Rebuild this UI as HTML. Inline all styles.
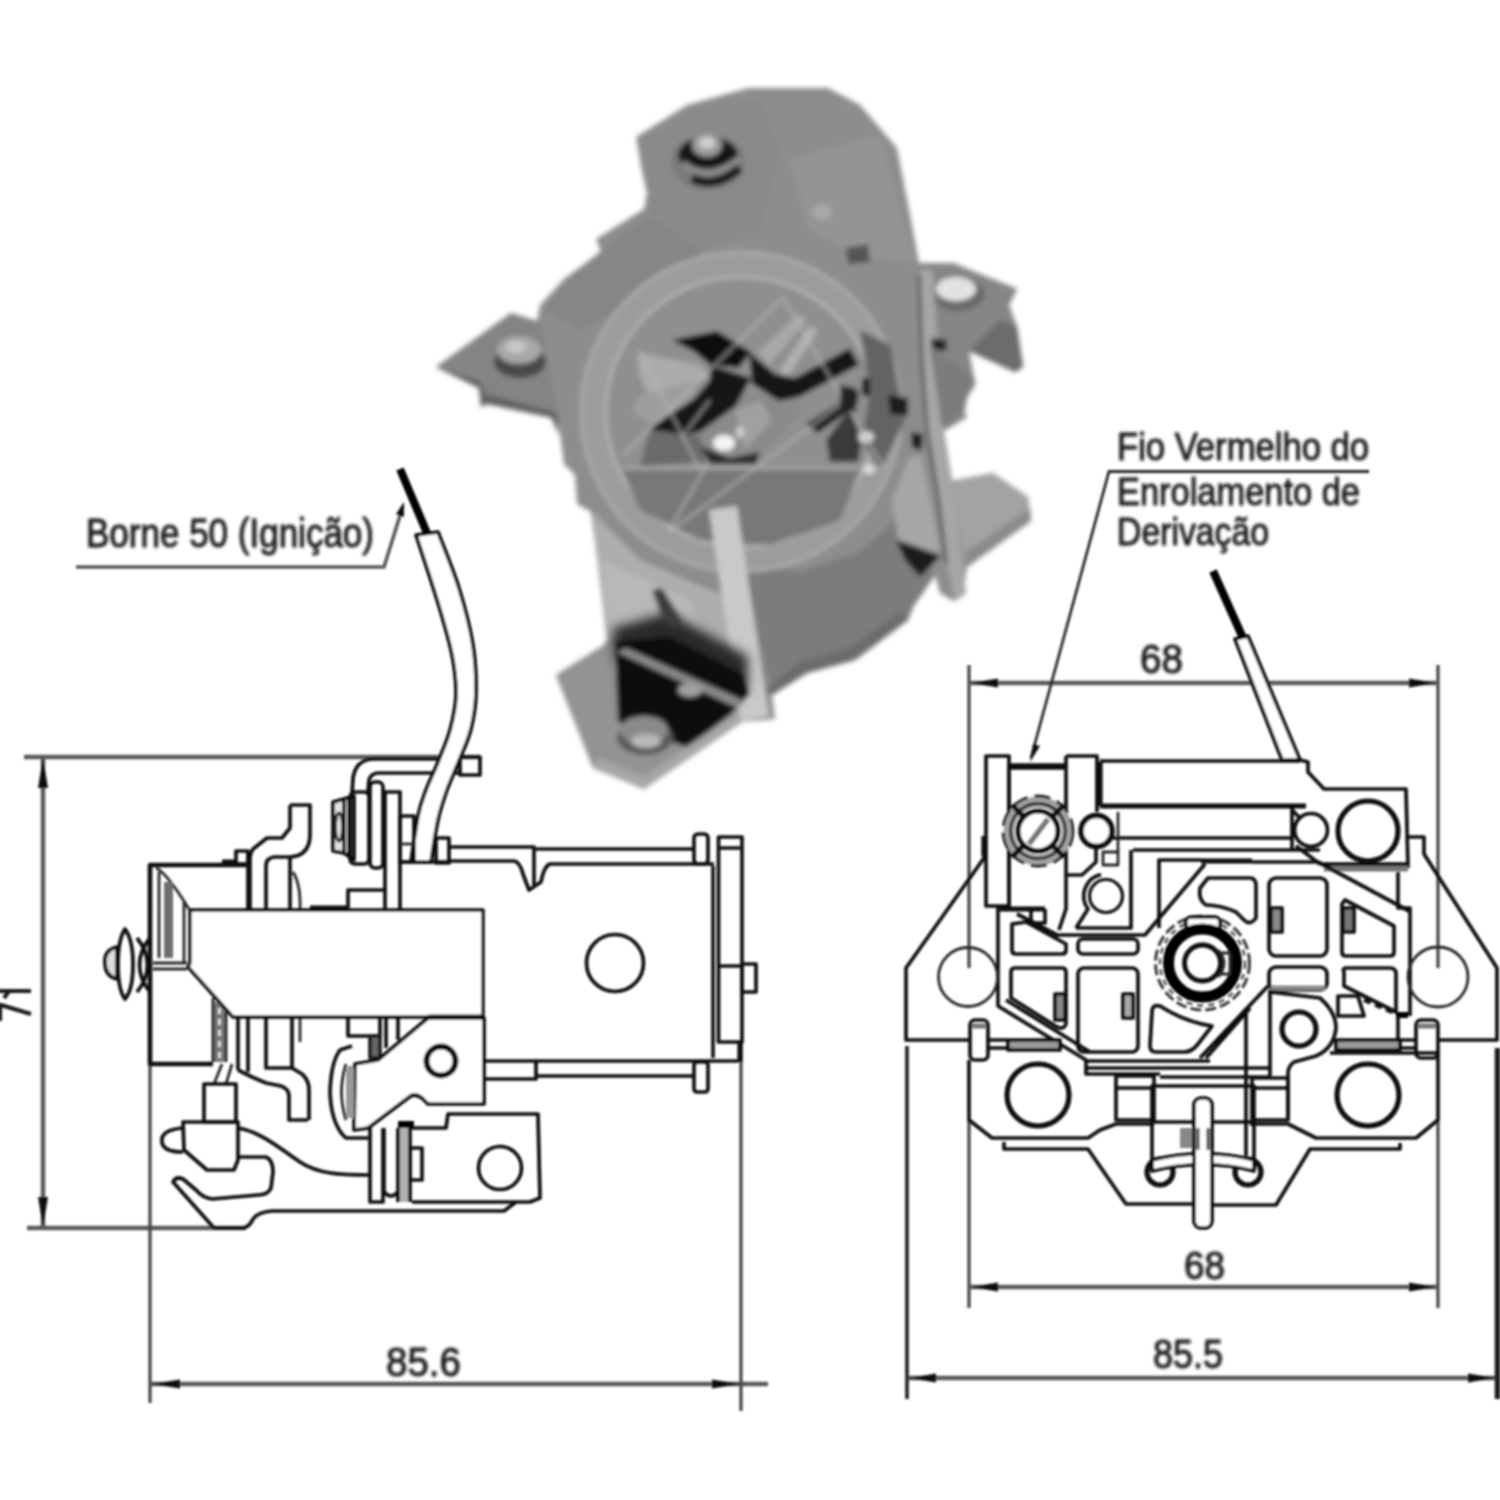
<!DOCTYPE html>
<html><head><meta charset="utf-8">
<style>
html,body{margin:0;padding:0;background:#fff;}
svg{display:block}
text{font-family:"Liberation Sans",sans-serif;fill:#161616;stroke:#161616;stroke-width:0.9}
.l{stroke:#0a0a0a;stroke-width:3.7;fill:none;stroke-linejoin:round;stroke-linecap:butt}
.w{fill:#fff}
.k{stroke-width:5.2}
.t{stroke:#262626;stroke-width:2.8}
.d{stroke:#5a5a5a;stroke-width:4.5;fill:none}
.e{stroke:#484848;stroke-width:3.3;fill:none}
.a{fill:#111;stroke:none}
.g{fill:#8a8a8a}
</style></head><body>
<svg width="1500" height="1500" viewBox="0 0 1500 1500">
<defs>
<filter id="b1" x="-5%" y="-5%" width="110%" height="110%"><feGaussianBlur stdDeviation="1.15"/></filter>
<filter id="b2" x="-5%" y="-5%" width="110%" height="110%"><feGaussianBlur stdDeviation="2.6"/></filter>
<filter id="b3" x="-10%" y="-10%" width="120%" height="120%"><feGaussianBlur stdDeviation="5"/></filter>
<filter id="bt" x="-5%" y="-20%" width="110%" height="140%"><feGaussianBlur stdDeviation="0.9"/></filter>
</defs>
<rect width="1500" height="1500" fill="#fff"/>
<g id="photo" filter="url(#b2)">
<!-- silhouette -->
<polygon fill="#8d8d8d" points="748,88 828,88 860,105 897,148 911,220 919,263 953,263 1017,289 1009,305 1017,327 1023,367 1015,372 969,351 975,385 961,407 967,417 940,433 945,476 951,481 993,473 1028,497 1031,521 967,567 964,588 953,601 940,593 935,575 913,607 908,620 855,660 807,673 772,695 775,719 740,722 644,789 593,768 556,675 604,645 607,640 596,549 591,512 577,504 575,475 564,464 559,427 551,417 487,404 481,407 479,388 436,367 511,313 537,321 540,305 564,279 601,252 596,239 644,209 647,193 641,167 636,137 687,105"/>
<!-- top cap lighter right band -->
<polygon fill="#949494" points="790,160 880,135 905,230 915,262 860,255 810,230"/>
<polygon fill="#8a8a8a" points="640,140 700,105 760,100 780,150 760,230 700,250 650,215"/>
<!-- cap lower left slope -->
<polygon fill="#868686" points="600,252 650,215 700,250 690,275 640,300 580,330 545,310 565,280"/>
<!-- top screw -->
<ellipse cx="708" cy="162" rx="37" ry="28" fill="#7c7c7c"/>
<ellipse cx="708" cy="155" rx="30" ry="18" fill="#141414"/>
<path d="M683,163 Q708,184 740,158" stroke="#8c8c8c" stroke-width="6" fill="none"/>
<path d="M692,178 Q714,190 740,168" stroke="#141414" stroke-width="9" fill="none"/>
<ellipse cx="707" cy="145" rx="15" ry="12" fill="#9a9a9a"/>
<ellipse cx="707" cy="143" rx="8" ry="6" fill="#d0d0d0"/>
<!-- left lug -->
<polygon fill="#848484" points="436,367 511,313 540,322 560,420 487,404 479,388"/>
<polygon fill="#626262" points="436,367 479,388 481,407 487,404 551,417 559,436 556,412 486,394 480,381"/>
<ellipse cx="520" cy="362" rx="26" ry="16" fill="#4a4a4a"/>
<ellipse cx="519" cy="350" rx="22" ry="14" fill="#a8a8a8"/>
<ellipse cx="516" cy="347" rx="10" ry="6" fill="#c8c8c8"/>
<!-- lower-left light front plate -->
<polygon fill="#adadad" points="593,512 640,560 710,590 745,600 770,716 740,722 700,690 640,630 607,640 596,549"/>
<polygon fill="#b8b8b8" points="600,560 690,600 720,690 660,640 610,635"/>
<!-- coil -->
<polygon fill="#7b7b7b" points="742,560 800,572 860,552 900,515 935,575 913,607 908,620 855,660 807,673 772,695 760,640"/>
<polygon fill="#6c6c6c" points="765,690 772,695 807,673 855,660 908,620 900,612 850,648 800,662"/>
<!-- ring (watermark) -->
<circle cx="741" cy="412" r="148" fill="none" stroke="#9c9c9c" stroke-width="24"/>
<circle cx="741" cy="412" r="160" fill="none" stroke="#bdbdbd" stroke-width="2.5" opacity=".7"/>
<circle cx="741" cy="412" r="135" fill="none" stroke="#c6c6c6" stroke-width="2.5" opacity=".8"/>
<!-- inside ring base -->
<circle cx="741" cy="412" r="133" fill="#8f8f8f"/>
<!-- interior lighter bits -->
<polygon fill="#ababab" points="637,352 700,365 708,378 648,395 639,374"/>
<polygon fill="#9d9d9d" points="640,395 700,380 690,400 650,425 632,410"/>
<polygon fill="#a8a8a8" points="758,352 799,314 807,320 769,365"/>
<polygon fill="#b0b0b0" points="779,372 810,325 818,331 788,376"/>
<polygon fill="#8a8a8a" points="732,395 788,395 803,410 760,455 705,455 700,432"/>
<polygon fill="#a0a0a0" points="735,410 760,400 772,420 745,450"/>
<polygon fill="#787878" points="622,470 860,470 840,520 770,545 700,540 640,510"/>
<!-- darks -->
<polygon fill="#0e0e0e" points="672,340 717,331 751,352 739,368 710,365 695,352"/>
<polygon fill="#121212" points="710,365 751,378 736,406 700,432 669,439 650,428 695,398 710,380"/>
<polygon fill="#121212" points="749,352 775,374 795,378 850,348 859,365 799,397 779,401 752,384"/>
<polygon fill="#161616" points="806,424 859,390 857,405 818,433"/>
<polygon fill="#6a6a6a" points="650,430 700,436 706,462 640,466"/>
<polygon fill="#2a2a2a" points="700,446 730,458 760,452 756,464 710,464"/>
<polygon fill="#3a3a3a" points="826,440 850,408 862,440 858,462 830,462"/>
<polygon fill="#636363" points="860,330 890,345 905,420 880,470 862,440 870,390"/>
<rect x="862" y="378" width="8" height="18" fill="#1a1a1a"/>
<path d="M682,437 L710,400" stroke="#8a8a8a" stroke-width="2.5"/>
<!-- highlights -->
<ellipse cx="724" cy="443" rx="11" ry="8" fill="#f4f4f4"/>
<ellipse cx="740" cy="432" rx="4" ry="6" fill="#cfcfcf"/>
<ellipse cx="866" cy="437" rx="8" ry="6" fill="#d6d6d6"/>
<ellipse cx="869" cy="469" rx="6" ry="5" fill="#e0e0e0"/>
<!-- watermark lines -->
<g stroke="#bcbcbc" stroke-width="2.2" fill="none" opacity=".75">
<path d="M622,468 H884 M622,456 L783,298 M783,298 L884,468 M671,531 L856,393 M708,463 L668,532 M640,352 L700,470"/>
</g>
<!-- light plate bottom centre -->
<polygon fill="#c9c9c9" points="709,510 737,506 768,715 741,721"/>
<!-- black shadow under plate -->
<polygon fill="#2a2a2a" filter="url(#b3)" points="612,628 668,612 748,656 748,690 700,690 616,660"/>
<polygon fill="#101010" points="615,642 668,636 744,674 750,694 733,713 690,746 660,752 618,722"/>
<polygon fill="#8a8a8a" points="617,652 626,648 742,700 738,708"/>
<ellipse cx="690" cy="690" rx="12" ry="7" fill="#a0a0a0"/>
<!-- slot -->
<polygon fill="#3c3c3c" points="652,590 662,588 682,620 672,628 660,612"/>
<!-- bottom lug -->
<polygon fill="#939393" points="556,675 604,645 618,722 688,748 733,713 742,722 644,789 593,768"/>
<polygon fill="#a6a6a6" points="593,768 644,789 742,722 738,712 644,776 598,757"/>
<ellipse cx="645" cy="738" rx="28" ry="17" fill="#5a5a5a"/>
<ellipse cx="644" cy="730" rx="24" ry="14" fill="#8a8a8a"/>
<ellipse cx="646" cy="741" rx="15" ry="7" fill="#b9b9b9"/>
<!-- right lug top -->
<polygon fill="#858585" points="919,263 953,263 1017,289 1009,305 1017,327 1023,367 1015,372 969,351 975,385 961,407 967,417 940,433 930,330"/>
<polygon fill="#6c6c6c" points="969,351 1015,372 1023,367 1017,327 1000,320 985,335"/>
<ellipse cx="958" cy="294" rx="27" ry="17" fill="#6a6a6a"/>
<ellipse cx="956" cy="289" rx="20" ry="12" fill="#e2e2e2"/>
<!-- right strap -->
<polygon fill="#a6a6a6" points="920,270 933,270 939,363 944,430 955,497 963,563 966,594 955,601 947,563 939,497 928,430 923,363"/>
<path d="M919,275 L922,363 L927,430 L938,497 L946,563" stroke="#4e4e4e" stroke-width="3" fill="none"/>
<polygon fill="#222" points="931,338 947,340 946,351 932,350"/>
<polygon fill="#1a1a1a" points="911,432 923,434 922,450 912,448"/>
<polygon fill="#1a1a1a" points="888,395 908,398 908,416 890,414"/>
<polygon fill="#222" points="840,385 856,388 856,412 840,410"/>
<polygon fill="#7c7c7c" points="930,345 976,380 968,390 965,410 942,428"/>
<!-- triangle bracket -->
<polygon fill="#a6a6a6" points="909,458 921,456 941,553 898,540 892,500"/>
<polygon fill="#1e1e1e" points="896,540 941,556 920,577 905,560"/>
<!-- right bottom lug -->
<polygon fill="#a3a3a3" points="951,481 993,473 1028,497 1031,521 967,567 958,520"/>
<polygon fill="#8a8a8a" points="967,567 1031,521 1030,508 966,552"/>
<!-- small details -->
<polygon fill="#555" points="846,248 868,244 870,262 848,264"/>
<ellipse cx="822" cy="212" rx="10" ry="8" fill="#a8a8a8"/>
</g>

<g id="left" filter="url(#b1)">
<!-- dimension lines -->
<path class="d" d="M24,757H480 M43,757V1228 M27,1228H246 M151,1384H768"/>
<path class="e" d="M150,1066V1403 M741,1044V1411"/>
<polygon class="a" points="43,758 38,788 48,788"/>
<polygon class="a" points="43,1227 38,1197 48,1197"/>
<polygon class="a" points="152,1384 180,1379.500 180,1388.500"/>
<polygon class="a" points="740,1384 712,1379.500 712,1388.500"/>
<!-- core body, rods, end plate -->
<g class="l">
<path d="M400,862H449"/>
<path d="M449,847H534V885"/>
<path d="M449,861H514Q520,862 523,874L529,890L541,882Q544,866 550,864H714"/>
<path d="M536,849H694"/>
<rect x="694" y="834" width="14" height="30" rx="4"/>
<path d="M713,866V1058" style="stroke-width:3.6"/>
<path d="M484,1061H738"/>
<rect x="718.500" y="837" width="23.500" height="205"/>
<path d="M719,848H740 M717,966H742"/>
<rect x="742" y="964" width="14" height="28"/>
<path class="k" d="M740,1042V1062"/>
<circle cx="615" cy="963" r="28.500"/>
<path d="M484,1079H536V1062 M536,1076H694"/>
<rect x="694" y="1062" width="14" height="30" rx="3"/>
</g>
<!-- bent strip + dim box (drawn before wire) -->
<g class="l">
<path d="M352,794L353,778Q356,760 372,759H460"/>
<path d="M368,792L369,780Q371,773 379,773H460"/>
<rect x="460" y="757" width="20" height="18"/>
</g>
<!-- wire -->
<path class="l w" d="M416,535C419.7,546.3 432.0,583.0 438,603C444.0,623.0 449.0,639.7 452,655C455.0,670.3 456.3,682.5 456,695C455.7,707.5 453.0,718.8 450,730C447.0,741.2 442.0,752.0 438,762C434.0,772.0 429.3,781.0 426,790C422.7,799.0 420.5,804.0 418,816C415.5,828.0 412.2,854.3 411,862L431,862C432.2,855.0 435.3,832.0 438,820C440.7,808.0 443.5,799.8 447,790C450.5,780.2 455.0,771.2 459,761C463.0,750.8 468.2,740.3 471,729C473.8,717.7 475.7,707.0 476,693C476.3,679.0 475.8,662.5 473,645C470.2,627.5 464.8,606.8 459,588C453.2,569.2 441.5,541.3 438,532Z"/>
<path d="M400,469L427,533" stroke="#000" stroke-width="8" fill="none"/>
<rect class="l" x="436" y="838" width="13" height="25"/>
<!-- label -->
<path class="d" style="stroke-width:3.6" d="M76,567H384L403,506"/>
<polygon class="a" points="404,502 396,514 404,517"/>
<!-- body left block -->
<g class="l">
<path class="k" style="stroke-width:4.6" d="M246,865H150V1064H213"/>
<path class="t" d="M156,868Q166,872 189,909 M159,872V958 M184,902V962 M153,963H187 M153,969H187"/>
<rect x="164" y="882" width="9" height="76" fill="#6e6e6e" stroke="none"/>
<rect x="236" y="851" width="12" height="13"/>
<path d="M222,862H236" style="stroke-width:5"/>
<path d="M248,852V910"/>
<!-- Z bracket upper -->
<path d="M290,805V828L282,838H267L253,849Q250,853 250,860V910"/>
<path d="M290,805H310V834Q310,856 290,857H274Q266,858 266,866V910"/>
<path d="M290,858V910"/>
<path class="t" d="M293,872Q301,885 300,910"/>
<!-- nut stack -->
<path d="M333,802L344,799L354,796V860L344,853L333,851Z" fill="#e4e4e4"/>
<path d="M344,799V853 M349,798V857"/>
<ellipse cx="339" cy="827" rx="3.500" ry="14" class="t"/>
<rect x="350" y="792" width="19" height="72" rx="5"/>
<rect x="370" y="782" width="13" height="86" rx="5"/>
<path d="M385,910V792H400V910"/>
<rect x="400" y="816" width="14" height="46"/>
<path class="t" d="M400,844H414"/>
<path d="M348,908V890H384"/>
<path d="M310,908H348" style="stroke-width:5"/>
<!-- left terminal screw -->
<path d="M117,947Q104,950 105,963Q105,976 117,979Z" fill="#ddd"/>
<path d="M125,929Q133,940 133,964Q133,990 125,999Q118,990 118,964Q118,940 125,929Z"/>
<path d="M137,938C151,955 151,975 137,992 M150,938C136,955 136,975 150,992"/>
</g>
<!-- lower parts below big rect -->
<g class="l">
<rect x="213" y="1002" width="13" height="60" fill="#777" stroke="none"/>
<path class="t" d="M213,998V1062 M226,1012V1062" />
<path d="M219.500,1008V1060" stroke="#fff" stroke-width="2" stroke-dasharray="6 5"/>
<path class="t" d="M222,1064L214,1084 M232,1064L226,1084"/>
<path d="M238,1017V1070 M248,1017V1072"/>
<path d="M266,1017V1068H292V1017"/>
<path class="t" d="M300,1017V1042"/>
<path d="M238,1070L252,1077L266,1083L281,1086Q289,1089 289,1096V1120H308"/>
<path d="M292,1068L302,1074Q309,1080 309,1090V1120"/>
<rect x="204" y="1084" width="32" height="38"/>
<path d="M183,1122H238V1160L234,1170H207L184,1150Z"/>
<path d="M183,1128Q160,1130 162,1142Q163,1152 183,1152"/>
<path d="M238,1157H266Q273,1160 273,1172L271,1188Q268,1195 258,1195L212,1199Q203,1198 196,1190L183,1179Q176,1176 173,1182L214,1228"/>
<path d="M238,1128C262,1132 282,1150 300,1162C318,1174 340,1175 370,1175"/>
<path d="M214,1228H244Q250,1226 253,1219Q258,1212 272,1211H504L516,1202"/>
<!-- lens contact -->
<path d="M352,1046L340,1050Q331,1062 330,1092Q331,1120 342,1134L346,1138H368"/>
<path class="t" d="M346,1064Q337,1092 346,1120"/>
<rect x="348" y="1066" width="6" height="50" fill="#8c8c8c" stroke="none"/>
<path d="M348,1018V1036H380V1018"/>
<rect x="370" y="1036" width="10" height="22" fill="#666" stroke="#1e1e1e"/>
<path d="M386,1018V1048 M398,1018V1040"/>
<!-- lower plates -->
<path d="M370,1128V1202H383V1128"/>
<path d="M384,1128V1192Q391,1200 398,1192"/>
<rect x="399" y="1128" width="11" height="74" fill="#b0b0b0" stroke="none"/>
<path d="M398,1128V1202 M410,1128V1202"/>
<rect x="398" y="1121" width="16" height="7" fill="#000" stroke="none"/>
<rect x="410" y="1148" width="12" height="32"/>
<path d="M412,1128H446L448,1114H538L540,1198L530,1202H412"/>
<circle cx="500" cy="1168" r="21.500"/>
</g>
<!-- big rect -->
<path class="l w" style="stroke-width:3.400" d="M190,910H483V1017H233L188,967L190,963Z"/>
<path class="l" d="M428,1017H484" style="stroke-width:5"/>
<!-- upper lug -->
<path class="l w" d="M428,1018H484V1104H428L422,1098Q414,1092 408,1098L368,1128L354,1130L355,1064L378,1060Z"/>
<rect x="346" y="1068" width="8" height="50" fill="#999" stroke="none"/>
<circle class="l" cx="441" cy="1061" r="14.500" style="stroke-width:6"/>
<path d="M-3,991H31 M9,991L4,998 M31,1014Q14,1009 1,1005 M0,1003V1021" stroke="#1a1a1a" stroke-width="4.2" fill="none"/>
<!-- text -->
<g filter="url(#bt)">
<text x="86" y="547" font-size="40" textLength="288" lengthAdjust="spacingAndGlyphs">Borne 50 (Ignição)</text>
<text x="386" y="1376" font-size="40" textLength="75" lengthAdjust="spacingAndGlyphs">85.6</text>

</g>
</g>

<g id="right" filter="url(#b1)">
<!-- dimension / extension lines -->
<path class="e" d="M969,665V968 M969,1120V1308 M1438,665V968 M1438,1120V1308"/>
<path class="d" d="M969,683H1438 M969,1287H1438 M907,1378H1497"/>
<path d="M907,1046V1399" stroke="#333" stroke-width="4" fill="none"/><path d="M1497.500,1048V1399" stroke="#1c1c1c" stroke-width="5.500" fill="none"/>
<polygon class="a" points="971,683 998,678.500 998,687.500"/>
<polygon class="a" points="1436,683 1409,678.500 1409,687.500"/>
<polygon class="a" points="971,1287 998,1282.500 998,1291.500"/>
<polygon class="a" points="1436,1287 1409,1282.500 1409,1291.500"/>
<polygon class="a" points="909,1378 936,1373.500 936,1382.500"/>
<polygon class="a" points="1495,1378 1468,1373.500 1468,1382.500"/>
<!-- leader -->
<path class="d" style="stroke-width:2.8;stroke:#2a2a2a" d="M1369,471.500H1109L1031,758"/>
<polygon class="a" points="1030,762 1033,744 1040,746"/>
<!-- wire -->
<path class="l w" d="M1235,639L1282,760H1300L1248,636Z"/>
<path d="M1213,571L1243,638" stroke="#000" stroke-width="8" fill="none"/>
<g class="l">
<!-- outer body -->
<path d="M984,836V858L906,968V1040H970"/>
<path d="M1408,837H1424V854L1497,968V1040H1438"/>
<path class="k" d="M984,836V856"/>
<!-- top assembly -->
<rect x="986" y="756" width="23" height="150"/>
<path d="M1009,766.500H1066" style="stroke-width:6.500"/>
<path d="M1009,766V906 M1066,756V909L1059,930"/>
<path d="M1066,756H1097V812"/>
<path class="k" d="M1000,909H1045"/>
<path d="M1031,909V923H1045V909"/>
<path d="M1017,914L1059,936"/>
<!-- bars -->
<path d="M1100,761H1300"/>
<path class="k" d="M1100,762V806"/>
<path class="k" d="M1100,806H1306"/>
<path d="M1113,838H1292V806 M1292,838V849"/>
<path d="M1133,850H1320"/>
<path class="t" stroke="#555" d="M1118,812V852"/>
<!-- step right + block -->
<path d="M1300,760L1308,762V772L1324,789H1406L1408,868"/>
<path d="M1324,868H1408" stroke="#777" style="stroke-width:7"/>
<path d="M1320,864H1408"/>
<circle cx="1368" cy="831" r="30" class="k"/>
<circle cx="1311" cy="830" r="16.500"/>
<path d="M1292,810L1300,818 M1296,846L1320,864"/>
<!-- screw -->
<circle cx="1038" cy="831" r="29" stroke="#a2a2a2" style="stroke-width:11"/>
<circle cx="1038" cy="831" r="35" class="t" stroke="#555" stroke-dasharray="16 7"/>
<circle cx="1038" cy="831" r="27.500" class="t" stroke="#777"/>
<path d="M1012,805L1064,857 M1064,805L1012,857" style="stroke-width:5"/>
<circle cx="1038" cy="831" r="20" class="w" style="stroke-width:5"/>
<path d="M1029,844L1048,819" stroke="#777" style="stroke-width:5.500"/>
<circle cx="1096.500" cy="831" r="15.500" class="w" style="stroke-width:5.500"/>
<!-- lower-left lug -->
<path d="M1131,850V928H1076"/>
<path d="M1101,874.500A22,22 0 0 0 1088,909L1076,928"/>
<path d="M1066,875H1082L1096,862V846"/>
<rect x="1103" y="852" width="15" height="13" class="t"/>
<circle cx="1106" cy="896" r="16.500" style="stroke-width:3.200"/>
<!-- frame -->
<path d="M1159,928V860H1201"/>
<path class="k" d="M1201,861H1252"/>
<path d="M1205,864L1145,935H1059"/>
<path d="M1252,862H1318L1409,911"/>
<path d="M998,906V1006L1086,1060V1074H1160"/>
<path d="M1006,1000L1090,1052"/>
<path d="M1086,1061H1210 M1086,1068H1270 M1160,1077H1270"/>
<path d="M1398,872V908H1410V1016"/>
<path d="M1268,986L1200,1058 M1250,1008L1206,1058"/>
<path d="M1246,1008V1156 M1270,990V1076"/>
<!-- cells -->
<path d="M1012,924V950Q1012,954 1016,954H1062Q1066,954 1066,950V944L1026,922Z"/>
<rect x="1078" y="939" width="60" height="15" rx="5"/>
<path d="M1015,968H1062Q1066,968 1066,972V1024Q1064,1030 1057,1027L1011,998V972Q1011,968 1015,968Z"/>
<rect x="1078" y="968" width="60" height="84" rx="6"/>
<path d="M1152,1012Q1152,1004 1160,1006Q1185,1022 1212,1026L1198,1044Q1192,1052 1184,1052H1156Q1150,1052 1150,1046Z"/>
<path d="M1200,888L1208,878H1250Q1256,878 1256,886V918Q1250,926 1244,920L1236,912Q1220,905 1206,905Q1198,900 1200,888Z"/>
<rect x="1269" y="878" width="58" height="78" rx="7"/>
<path d="M1342,904L1345,900L1394,926V952Q1394,956 1390,956H1346Q1342,956 1342,952Z"/>
<rect x="1269" y="967" width="58" height="23" rx="7"/>
<path d="M1271,988H1325" stroke="#888" style="stroke-width:5"/>
<path d="M1346,968H1390Q1396,968 1396,974V1012L1344,986V972Q1342,968 1346,968Z"/>
<rect x="1055" y="994" width="10" height="26" fill="#888"/>
<rect x="1123" y="994" width="10" height="24" fill="#aaa"/>
<rect x="1271" y="908" width="11" height="24" fill="#888"/>
<rect x="1343" y="908" width="11" height="24" fill="#777"/>
<path d="M1338,996H1358L1364,1016H1338Z"/>
<path d="M1364,1000L1396,1014" stroke-dasharray="7 5"/>
<rect x="1396" y="1012" width="12" height="6" fill="#000" stroke="none"/>
<!-- hub -->
<circle cx="1202.500" cy="963" r="47" stroke="#3a3a3a" style="stroke-width:3" stroke-dasharray="11 4"/>
<circle cx="1202.500" cy="963" r="42.500" stroke="#555" style="stroke-width:2.500" stroke-dasharray="6 5"/>
<rect x="1186" y="917" width="34" height="13" rx="5" class="w"/>
<circle cx="1202.500" cy="963" r="34" stroke="#050505" style="stroke-width:11"/>
<circle cx="1202.500" cy="963" r="18" style="stroke-width:4.800"/>
<path class="t" d="M1218,950Q1230,963 1218,977 M1219,953H1230V974H1219"/>
<!-- right lug -->
<path d="M1270,992L1320,998Q1336,1012 1336,1028Q1334,1048 1316,1056L1294,1062Q1288,1066 1288,1074V1120"/>
<circle cx="1299" cy="1029" r="17" class="k"/>
<!-- pins -->
<rect x="970" y="1020" width="18" height="40" rx="5"/>
<path d="M972,1026H986" stroke="#777" style="stroke-width:5"/>
<path d="M988,1040H1008 M988,1048H1008"/>
<rect x="1008" y="1040" width="52" height="10" fill="#9a9a9a"/>
<rect x="1416" y="1020" width="22" height="38" rx="5"/>
<path d="M1418,1026H1436" stroke="#777" style="stroke-width:5"/>
<path d="M1400,1040H1416 M1400,1048H1416"/>
<rect x="1336" y="1040" width="64" height="10" fill="#9a9a9a"/>
<path d="M1398,1016V1040"/>
<!-- mounting circles -->
<circle cx="968" cy="977" r="29.500" class="t"/>
<circle cx="1438" cy="977" r="30" class="t"/>
<!-- brackets -->
<path d="M969,1060V1120L992,1138H1088L1100,1130L1116,1124H1154"/>
<path d="M1004,1142V1149H1088L1126,1204H1194 M1212,1205H1276L1310,1149H1400V1143"/>
<circle cx="1038" cy="1095" r="31" class="k"/>
<path d="M1330,1053H1438V1120L1416,1138H1316L1308,1134L1288,1124H1250"/>
<circle cx="1368" cy="1095" r="31" class="k"/>
<!-- centre blocks -->
<rect x="1116" y="1076" width="38" height="44"/><path d="M1116,1088H1154"/>
<rect x="1252" y="1078" width="36" height="42"/><path d="M1252,1088H1288"/>
<rect x="1152" y="1086" width="102" height="36"/>
<path d="M1152,1122V1168 M1254,1122V1168"/>
<rect x="1180" y="1128" width="14" height="20" fill="#888" stroke="none"/>
<circle cx="1160" cy="1172" r="13" class="k"/>
<circle cx="1248" cy="1172" r="13" class="k"/>
<path class="w" d="M1152,1160Q1204,1147 1254,1160V1171Q1204,1158 1152,1171Z"/>
<rect class="w" x="1194" y="1098" width="18" height="130" rx="7"/>
<path class="t" d="M1198,1128V1150 M1208,1128V1150"/>
</g>
<g filter="url(#bt)">
<text x="1117" y="460" font-size="38.500" textLength="252" lengthAdjust="spacingAndGlyphs">Fio Vermelho do</text>
<text x="1117" y="505" font-size="38.500" textLength="243" lengthAdjust="spacingAndGlyphs">Enrolamento de</text>
<text x="1117" y="545" font-size="38.500" textLength="152" lengthAdjust="spacingAndGlyphs">Derivação</text>
<text x="1140" y="673" font-size="40" textLength="43" lengthAdjust="spacingAndGlyphs">68</text>
<text x="1184" y="1279" font-size="38" textLength="41" lengthAdjust="spacingAndGlyphs">68</text>
<text x="1153" y="1368" font-size="40" textLength="70" lengthAdjust="spacingAndGlyphs">85.5</text>
</g>
</g>

</svg>
</body></html>
